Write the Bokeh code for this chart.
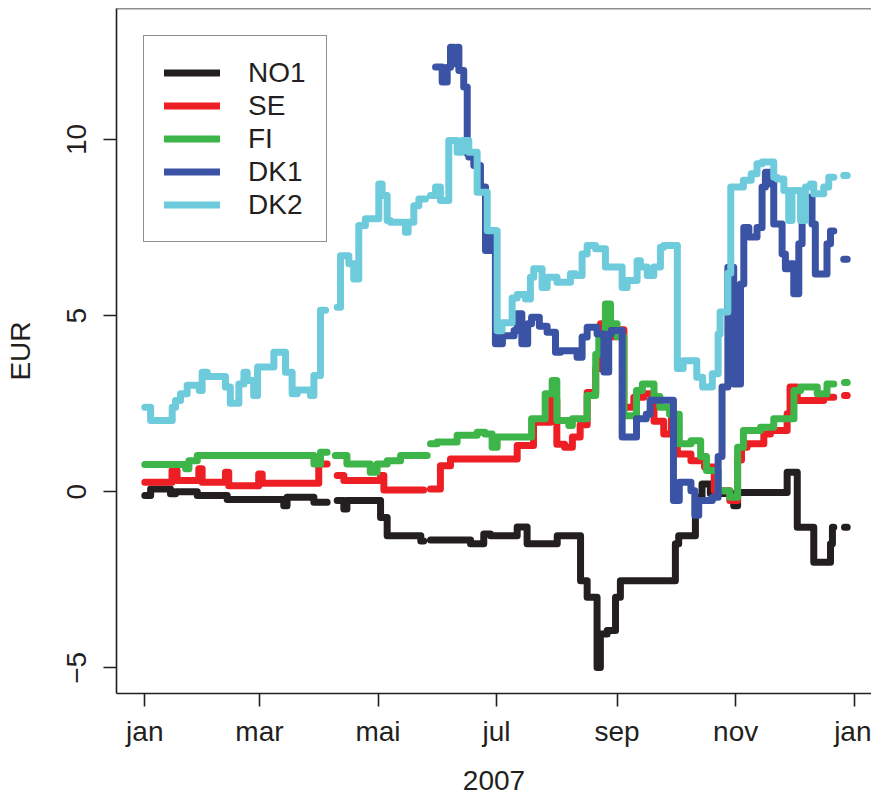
import numpy as np
from bokeh.plotting import figure
from bokeh.models import FixedTicker, Legend, LegendItem, Span
from bokeh.embed import file_html
from bokeh.resources import INLINE

GAP = None  # no observation: the line is broken

# x axis: day of year 2007
month_days = [0, 59, 120, 181, 243, 304, 365]
month_labels = ["jan", "mar", "mai", "jul", "sep", "nov", "jan"]
y_ticks = [-5, 0, 5, 10]

# step series: value holds from day[i] to day[i+1]
no1_day = [0, 3, 13.2, 15.8, 27, 42.4, 71.5, 73.2, 87, 93.8, 99, 102.4, 104, 121.3, 124.7,
           142, 143.5, 147, 167.6, 174.4, 177.9, 191.6, 196.7, 212.2, 224.2, 227.6, 232.7,
           234.4, 237.9, 242.2, 244.7, 273, 274.7, 283.3, 286.7, 291, 303, 305, 330.5, 335.7,
           344.2, 352.8, 353.8, 354.5, 360, 361.4]
no1_val = [-0.11, 0.08, -0.06, 0.0, -0.11, -0.22, -0.4, -0.16, -0.3, GAP, -0.25, -0.49, -0.25,
           -0.73, -1.25, -1.4, GAP, -1.37, -1.48, -1.2, -1.25, -1.0, -1.48, -1.25, -2.53, -3.0,
           -4.99, -4.04, -3.94, -3.0, -2.53, -1.48, -1.25, -0.16, 0.22, -0.05, -0.4, -0.02, 0.55,
           -1.01, -2.0, -1.48, -1.01, GAP, -1.01]

se_day = [0, 14, 16.6, 27.8, 29.5, 41.5, 43.2, 58.6, 60.4, 89.5, 93.8, 99, 102.4, 121.3, 123,
          143.5, 147, 152.1, 157.3, 191.6, 200, 208.7, 212, 216, 220, 224, 227.6, 232, 234.5,
          236, 240, 243, 246.5, 251.6, 256.7, 262, 267, 271, 274, 281, 288, 293, 301, 305, 307,
          309.9, 318.5, 321.9, 330.5, 332, 335.7, 349.3, 354.5, 360, 361.4]
se_val = [0.27, 0.6, 0.32, 0.65, 0.27, 0.55, 0.17, 0.5, 0.24, 0.79, GAP, 0.46, 0.32, 0.46, 0.05,
          GAP, 0.08, 0.74, 0.93, 1.31, 1.97, 2.6, 1.35, 1.26, 1.55, 1.9, 2.82, 3.5, 4.77, 4.6,
          4.4, 4.6, 2.4, 2.68, 2.78, 2.0, 1.64, 2.1, 1.07, 0.88, 0.7, 0.03, -0.25, 0.9, 1.26,
          1.36, 1.64, 1.74, 2.21, 2.97, 2.59, 2.68, GAP, 2.73]

fi_day = [0, 21, 22.7, 27, 87, 90.4, 93.8, 98, 104, 116, 119.5, 124.7, 131.6, 145.3, 147, 150.4,
          160.7, 171, 175, 178.7, 181.3, 199, 206, 209.6, 212, 218.2, 220, 227.6, 232, 233.6,
          237, 239.6, 243, 246.5, 253, 256, 262, 265, 270, 275, 281, 286, 289, 295, 301, 305,
          308, 316.8, 323.6, 334, 337.4, 346, 351, 354.5, 360, 361.4]
fi_val = [0.77, 0.65, 0.88, 1.03, 0.79, 1.12, GAP, 1.03, 0.79, 0.55, 0.79, 0.88, 1.03, GAP, 1.36,
          1.41, 1.6, 1.69, 1.64, 1.26, 1.55, 2.07, 2.78, 3.16, 2.02, 1.88, 2.07, 2.73, 3.9, 4.39,
          5.33, 4.77, 4.4, 2.16, 2.87, 3.06, 2.7, 2.4, 2.2, 1.36, 1.45, 1.0, 0.6, 0.03, -0.16,
          1.26, 1.74, 1.83, 2.07, 2.87, 2.97, 2.78, 3.06, GAP, 3.1]

dk1_day = [149.6, 153, 155.6, 157.3, 159, 160.7, 161.6, 164.1, 165.9, 166.7, 169.3, 172.7, 175.3,
           178.7, 180.4, 184, 190, 191.6, 194, 197, 199, 203, 207, 211.3, 213.9, 222.4, 225,
           227.6, 232.7, 236.2, 238.7, 240, 245.6, 253, 258, 260, 272, 275, 281, 283, 285, 292,
           295, 297, 300, 303, 306.5, 308.2, 310.8, 315, 317.6, 319.3, 321.9, 323.6, 327.9,
           329.6, 332.2, 333.9, 336.5, 338.2, 343.3, 345, 351, 352.8, 354.5, 359.6, 361.4]
dk1_val = [12.06, 11.63, 12.05, 12.62, 12.15, 12.62, 11.96, 11.49, 9.6, 9.5, 9.26, 8.65, 6.85,
           7.4, 4.2, 4.43, 4.58, 5.05, 4.2, 4.77, 4.95, 4.7, 4.53, 3.96, 4.0, 3.82, 4.39, 4.67,
           4.48, 3.4, 4.48, 4.58, 1.55, 2.07, 2.2, 2.6, -0.25, 0.27, 0.03, -0.67, -0.25, -0.16,
           1.0, 2.97, 6.37, 3.06, 5.9, 7.5, 7.23, 7.5, 8.65, 9.07, 8.74, 7.6, 6.75, 6.33, 6.47,
           5.62, 7.04, 8.36, 7.6, 6.18, 7.04, 7.4, GAP, 6.6]

dk2_day = [0, 3, 14.1, 15.8, 18.4, 21.8, 28, 29.5, 32.1, 41.5, 44, 48.4, 51, 52.7, 56, 58, 66.4,
           72.4, 75.8, 78.4, 85.2, 87, 90.4, 93, 99, 100.7, 105, 107.5, 110.1, 113.5, 120.4,
           122.1, 124.7, 126.4, 134.1, 135.5, 138.4, 141, 144.4, 147, 149.6, 152.1, 156.4, 160.7,
           163.3, 166.7, 171, 176.2, 181.3, 183.8, 189, 191.6, 195.9, 198.4, 200.1, 204.4, 207,
           212.1, 219, 221.6, 225, 227.6, 231.9, 237, 245.6, 248.2, 253.3, 255, 258.5, 261.9,
           265.3, 267, 274, 277, 284, 287, 292, 295, 296, 300, 301.5, 308, 312, 315, 317.6,
           323.6, 325.3, 328.8, 331.3, 333, 337.4, 339.9, 342.5, 344.2, 349.3, 351.9, 354.5,
           359.6, 361.4]
dk2_val = [2.40, 2.02, 2.4, 2.59, 2.78, 3.02, 2.87, 3.39, 3.27, 2.97, 2.51, 3.06, 3.39, 3.16,
           2.73, 3.54, 3.96, 3.39, 2.78, 2.89, 2.73, 3.3, 5.15, GAP, 5.24, 6.7, 6.47, 6.04, 7.56,
           7.75, 8.74, 8.41, 7.7, 7.65, 7.37, 7.65, 8.12, 8.31, GAP, 8.41, 8.65, 8.27, 9.97,
           9.64, 9.97, 9.64, 8.5, 7.41, 4.57, 4.8, 5.5, 5.6, 5.47, 6.09, 6.33, 5.8, 6.09, 5.95,
           6.19, 6.14, 6.75, 6.99, 6.9, 6.38, 5.8, 6.0, 6.56, 6.38, 6.14, 6.38, 6.94, 6.99, 3.5,
           3.72, 3.25, 2.97, 3.35, 4.48, 5.1, 6.2, 8.65, 8.84, 9.03, 9.31, 9.36, 8.93, 8.88,
           8.55, 7.7, 8.55, 7.7, 8.65, 8.74, 8.46, 8.65, 8.93, GAP, 8.98]

series_names = ["NO1", "SE", "FI", "DK1", "DK2"]
series_colors = ["#231f20", "#ed1f24", "#3eb549", "#3a53a4", "#6dcbdb"]
series_data = [(no1_day, no1_val), (se_day, se_val), (fi_day, fi_val),
               (dk1_day, dk1_val), (dk2_day, dk2_val)]


def step_path(days, vals):
    xs, ys = [], []
    for i, v in enumerate(vals):
        y = np.nan if v is None else float(v)
        xs += [days[i], days[i + 1]]
        ys += [y, y]
    return np.array(xs, dtype=float), np.array(ys, dtype=float)


FONT = "Liberation Sans"
TXT = "#231f20"

p = figure(width=871, height=797, output_backend="svg", toolbar_location=None,
           x_range=(-14.56, 373.9), y_range=(-5.73, 13.72),
           min_border_left=116, min_border_right=0, min_border_top=8, min_border_bottom=104)
p.outline_line_color = None
p.xgrid.visible = False
p.ygrid.visible = False
p.background_fill_color = "white"
p.border_fill_color = "white"

renderers = []
for (days, vals), col in zip(series_data, series_colors):
    xs, ys = step_path(days, vals)
    r = p.line(xs, ys, line_color=col, line_width=7, line_cap="round", line_join="round")
    renderers.append(r)

for ax in (p.xaxis[0], p.yaxis[0]):
    ax.axis_line_color = TXT
    ax.axis_line_width = 1.6
    ax.major_tick_line_color = TXT
    ax.major_tick_line_width = 1.6
    ax.major_tick_out = 13
    ax.major_tick_in = 0
    ax.minor_tick_out = 0
    ax.minor_tick_in = 0
    ax.major_label_text_font = FONT
    ax.major_label_text_font_size = "28px"
    ax.major_label_text_color = TXT
    ax.axis_label_text_font = FONT
    ax.axis_label_text_font_size = "28px"
    ax.axis_label_text_font_style = "normal"
    ax.axis_label_text_color = TXT

p.xaxis.ticker = FixedTicker(ticks=month_days)
p.xaxis.major_label_overrides = {d: m for d, m in zip(month_days, month_labels)}
p.xaxis.axis_label = "2007"
p.xaxis.major_label_standoff = 9
p.xaxis.axis_label_standoff = 21

p.yaxis.ticker = FixedTicker(ticks=y_ticks)
p.yaxis.major_label_orientation = "vertical"
p.yaxis.axis_label = "EUR"
p.yaxis.major_label_standoff = 17
p.yaxis.axis_label_standoff = 29

top_border = Span(location=13.72, dimension="width", line_color=TXT, line_width=1.6)
p.add_layout(top_border)

legend = Legend(items=[LegendItem(label=n, renderers=[r]) for n, r in zip(series_names, renderers)],
                location="top_left", margin=27, padding=20, spacing=0,
                glyph_width=56, glyph_height=33, label_height=33, label_standoff=28,
                label_text_font=FONT, label_text_font_size="28px", label_text_color=TXT,
                border_line_color=TXT, border_line_width=1.6,
                background_fill_color="white", background_fill_alpha=1.0)
p.add_layout(legend)

open("out.html", "w").write(file_html(p, INLINE))
